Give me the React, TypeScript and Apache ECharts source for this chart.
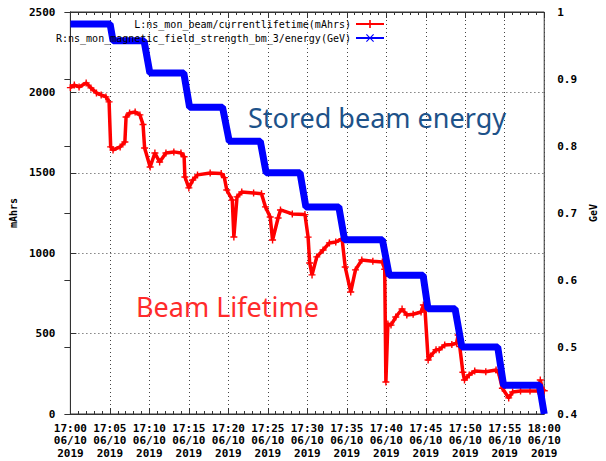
import React, { useEffect, useRef } from "react";
import * as echarts from "echarts";

// Time axis (minutes after 17:00)
const tickTimes = ["17:00", "17:05", "17:10", "17:15", "17:20", "17:25", "17:30", "17:35", "17:40", "17:45", "17:50", "17:55", "18:00"];
const tickDate = "06/10";
const tickYear = "2019";

// Beam lifetime (left axis, mAhrs)
const lifetimeTime = [0, 0.5, 1.1, 2.0, 2.6, 3.3, 3.9, 4.5, 4.9, 5.1,
  5.4, 6.3, 6.9, 7.05, 7.5, 8.2, 8.8, 9.2, 9.4, 10.1,
  10.7, 11.3, 12.1, 13.1, 14.0, 14.4, 14.5, 15.0, 15.5, 16.1,
  17.7, 19.1, 19.5, 19.8, 20.5, 20.7, 21.1, 21.7, 23.2, 24.2,
  24.7, 25.3, 25.6, 26.3, 26.6, 28.1, 29.7, 30.1, 30.3, 30.6,
  31.2, 32.0, 32.8, 33.6, 34.4, 34.8, 35.5, 36.1, 36.9, 38.3,
  39.5, 39.8, 39.95, 40.2, 40.6, 41.2, 42.0, 42.6, 43.4, 44.4,
  44.7, 44.9, 45.3, 45.6, 46.3, 46.7, 47.4, 48.3, 48.9, 49.1,
  49.3, 49.7, 49.9, 50.5, 51.2, 52.6, 53.9, 54.2, 54.7, 55.5,
  56.0, 57.0, 58.2, 59.2, 59.5, 59.8, 60];
const lifetimeMAh = [2030, 2046, 2034, 2059, 2028, 1997, 1984, 1972, 1941, 1661,
  1642, 1661, 1692, 1847, 1872, 1878, 1860, 1800, 1654, 1536,
  1623, 1567, 1623, 1630, 1623, 1600, 1474, 1406, 1455, 1487,
  1499, 1495, 1470, 1393, 1331, 1101, 1350, 1381, 1375, 1370,
  1288, 1225, 1082, 1219, 1269, 1244, 1240, 1100, 939, 865,
  977, 1020, 1064, 1070, 1090, 914, 759, 896, 958, 950,
  945, 900, 199, 560, 553, 603, 653, 616, 620, 634,
  678, 650, 336, 360, 400, 400, 429, 432, 441, 491,
  420, 260, 211, 243, 267, 263, 274, 260, 160, 100,
  137, 143, 143, 143, 211, 150, 145];

// Stored beam energy (right axis, GeV)
const energyTime = [0, 5.03, 5.4, 9.33, 10.06, 14.36, 15.09, 19.26, 20.12, 24.05, 24.79, 29.08, 29.82,
  33.99, 34.72, 39.51, 40.37, 44.66, 45.28, 48.71, 49.57, 54.11, 54.85, 59.39, 60];
const energyGeV = [0.982, 0.982, 0.957, 0.957, 0.909, 0.909, 0.858, 0.858, 0.807, 0.807, 0.76, 0.76, 0.709,
  0.709, 0.66, 0.66, 0.607, 0.607, 0.557, 0.557, 0.5, 0.5, 0.443, 0.443, 0.4];

const lifetimeName = "L:ns_mon_beam/currentlifetime(mAhrs)";
const energyName = "R:ns_mon_magnetic_field_strength_bm_3/energy(GeV)";

const MONO = "'DejaVu Sans Mono', 'Liberation Mono', monospace";
const PLUS = "path://M4,0H6V4H10V6H6V10H4V6H0V4H4Z";
const CROSS = "path://M0,1L1,0L5,4L9,0L10,1L6,5L10,9L9,10L5,6L1,10L0,9L4,5Z";

export default function App() {
  const ref = useRef<HTMLDivElement>(null);
  useEffect(() => {
    if (!ref.current) return;
    const chart = echarts.init(ref.current, null, { renderer: "svg" });
    const axisLabelStyle = { fontFamily: MONO, fontWeight: "bold" as const, fontSize: 11, color: "#000" };
    const legendBase = {
      orient: "horizontal",
      align: "right",
      right: 221,
      itemWidth: 28,
      itemHeight: 10,
      padding: 0,
      textStyle: { fontFamily: MONO, fontSize: 10, color: "#000" },
      selectedMode: false,
    };
    chart.setOption({
      animation: false,
      backgroundColor: "#fff",
      grid: { left: 66, right: 51, top: 12, bottom: 47, show: true, borderColor: "#333", borderWidth: 1 },
      legend: [
        { ...legendBase, top: 19, data: [lifetimeName] },
        { ...legendBase, top: 33, data: [energyName] },
      ],
      xAxis: [
        {
          type: "value", min: 0, max: 60, interval: 5, position: "bottom",
          axisLine: { lineStyle: { color: "#333" } },
          axisTick: { inside: true, length: 6, lineStyle: { color: "#333" } },
          minorTick: { show: true, splitNumber: 5, length: 3, lineStyle: { color: "#333" } },
          splitLine: { show: true, lineStyle: { color: "#444", type: [1, 3] } },
          axisLabel: {
            ...axisLabelStyle, lineHeight: 12.5, margin: 8,
            formatter: (v: number) => {
              const i = Math.round(v / 5);
              return `${tickTimes[i]}\n${tickDate}\n${tickYear}`;
            },
          },
        },
        {
          type: "value", min: 0, max: 60, interval: 5, position: "top",
          axisLine: { lineStyle: { color: "#333" } },
          axisTick: { inside: true, length: 6, lineStyle: { color: "#333" } },
          minorTick: { show: true, splitNumber: 5, length: 3, lineStyle: { color: "#333" } },
          splitLine: { show: false },
          axisLabel: { show: false },
        },
      ],
      yAxis: [
        {
          type: "value", min: 0, max: 2500, interval: 500, position: "left",
          name: "mAhrs", nameLocation: "middle", nameGap: 48, nameRotate: 90,
          nameTextStyle: { fontFamily: MONO, fontWeight: "bold", fontSize: 10, color: "#000" },
          axisLine: { show: true, lineStyle: { color: "#333" } },
          axisTick: { show: true, inside: true, length: 6, lineStyle: { color: "#333" } },
          splitLine: { show: true, lineStyle: { color: "#444", type: [1, 3] } },
          axisLabel: { ...axisLabelStyle, margin: 15, formatter: (v: number) => String(Math.round(v)) },
        },
        {
          type: "value", min: 0.4, max: 1, interval: 0.1, position: "right",
          name: "GeV", nameLocation: "middle", nameGap: 35, nameRotate: 90,
          nameTextStyle: { fontFamily: MONO, fontWeight: "bold", fontSize: 10, color: "#000" },
          axisLine: { show: true, lineStyle: { color: "#333" } },
          axisTick: { show: true, inside: true, length: 6, lineStyle: { color: "#333" } },
          splitLine: { show: false },
          axisLabel: {
            ...axisLabelStyle, margin: 13,
            formatter: (v: number) => (Math.abs(v - 1) < 1e-6 ? "1" : v.toFixed(1)),
          },
        },
      ],
      series: [
        {
          name: lifetimeName, type: "line", xAxisIndex: 0, yAxisIndex: 0,
          data: lifetimeTime.map((t, i) => [t, lifetimeMAh[i]]),
          color: "#ff0000",
          lineStyle: { width: 3.5, color: "#ff0000" },
          symbol: PLUS, symbolSize: 7, showSymbol: true,
          itemStyle: { color: "#ff0000" },
          z: 2,
        },
        {
          name: energyName, type: "line", xAxisIndex: 0, yAxisIndex: 1,
          data: energyTime.map((t, i) => [t, energyGeV[i]]),
          color: "#0000ff",
          lineStyle: { width: 7, color: "#0000ff" },
          symbol: CROSS, symbolSize: 7, showSymbol: false,
          itemStyle: { color: "#0000ff" },
          z: 3,
        },
      ],
      graphic: [
        {
          type: "text", x: 248, y: 117, z: 10,
          style: { text: "Stored beam energy", fill: "#1d5289", font: "27px 'Noto Sans', sans-serif", verticalAlign: "middle" },
        },
        {
          type: "text", x: 136, y: 306, z: 10,
          style: { text: "Beam Lifetime", fill: "#ff2b2b", font: "27px 'Noto Sans', sans-serif", verticalAlign: "middle" },
        },
      ],
    });
    return () => chart.dispose();
  }, []);
  return <div ref={ref} style={{ width: 606, height: 461, position: "absolute", left: 0, top: 0 }} />;
}
